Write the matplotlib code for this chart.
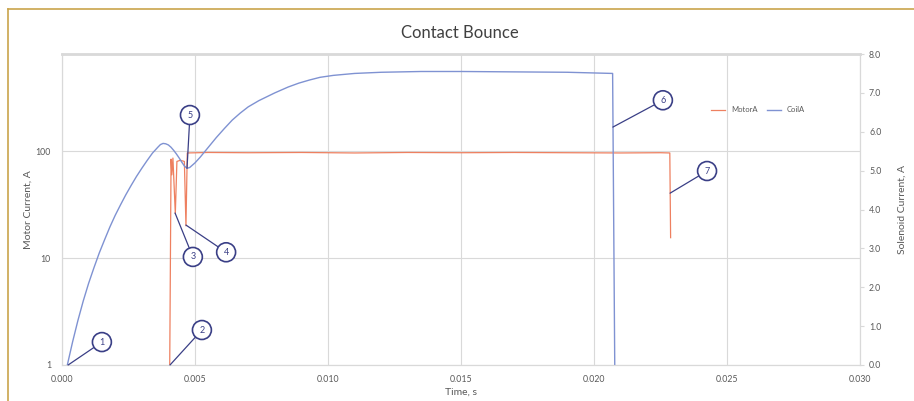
import matplotlib
matplotlib.use("Agg")
import matplotlib.pyplot as plt
from matplotlib.lines import Line2D

# --- data ------------------------------------------------------------------
# solenoid (coil) current, right axis, A
coil_t = [0.0002, 0.0004, 0.0006, 0.0008, 0.0010, 0.0012, 0.0014, 0.0016,
          0.0018, 0.0020, 0.0022, 0.0024, 0.0026, 0.0028, 0.0030, 0.0032,
          0.0034, 0.0036, 0.0037, 0.0038, 0.0039, 0.0040, 0.0041, 0.0042,
          0.0043, 0.0044, 0.0045, 0.0046, 0.0047, 0.0048, 0.0049, 0.0050,
          0.0052, 0.0055, 0.0058, 0.0061, 0.0064, 0.0067, 0.0070, 0.0074,
          0.0077, 0.0080, 0.0085, 0.0089, 0.0093, 0.0097, 0.0102, 0.0110,
          0.0120, 0.0135, 0.0150, 0.0170, 0.0190, 0.0207, 0.02078]
coil_a = [0.0, 0.6, 1.15, 1.65, 2.1, 2.5, 2.88, 3.22,
          3.55, 3.85, 4.12, 4.38, 4.62, 4.85, 5.06, 5.26,
          5.45, 5.6, 5.67, 5.7, 5.69, 5.66, 5.6, 5.52,
          5.43, 5.33, 5.22, 5.12, 5.06, 5.08, 5.14, 5.2,
          5.35, 5.6, 5.85, 6.08, 6.3, 6.48, 6.64, 6.8,
          6.9, 7.0, 7.15, 7.25, 7.33, 7.4, 7.45, 7.5,
          7.53, 7.55, 7.55, 7.54, 7.53, 7.5, 0.0]

# motor current, left log axis, A
motor_t = [0.00405, 0.00410, 0.00413, 0.00417, 0.00426, 0.00432, 0.00445,
           0.00460, 0.00466, 0.00471, 0.0055, 0.0070, 0.0090, 0.0110, 0.0130,
           0.0150, 0.0170, 0.0190, 0.0210, 0.0225, 0.02285, 0.02288]
motor_a = [1.0, 84, 60, 86, 26, 80, 82,
           80, 20, 96, 97, 96.5, 97, 96, 97,
           96.5, 97, 96.5, 96, 96.5, 96, 15.5]

# numbered callouts: label, point (t, solenoid-axis A), circle (t, A)
callout_num = ["1", "2", "3", "4", "5", "6", "7"]
callout_pt = [(0.00023, 0.0), (0.00406, 0.0), (0.00425, 3.91), (0.00466, 3.60),
              (0.0047, 5.06), (0.02071, 6.12), (0.02286, 4.42)]
callout_txt = [(0.0015, 0.59), (0.00526, 0.90), (0.00492, 2.78), (0.00617, 2.90),
               (0.00481, 6.43), (0.02259, 6.81), (0.02425, 4.99)]

x_ticks = [0.000, 0.005, 0.010, 0.015, 0.020, 0.025, 0.030]
left_ticks = [1, 10, 100]
right_ticks = [0, 1, 2, 3, 4, 5, 6, 7, 8]

BLUE = "#7f92d2"
ORANGE = "#ee8060"
NAVY = "#3a3f86"
GRID = "#d9d9d9"
TXT = "#595959"

plt.rcParams["font.family"] = ["Lato", "DejaVu Sans"]

fig = plt.figure(figsize=(9.14, 4.01), dpi=100)
ax = fig.add_axes([62 / 914, 36 / 401, 798 / 914, 311 / 401])
ax2 = ax.twinx()

ax.plot(motor_t, motor_a, color=ORANGE, lw=0.9, label="MotorA")
ax2.plot(coil_t, coil_a, color=BLUE, lw=1.0, label="CoilA")

ax.set_yscale("log")
ax.set_ylim(1, 808)
ax.set_xlim(0, 0.030)
ax2.set_ylim(0, 8)

ax.set_xticks(x_ticks)
ax.set_xticklabels([f"{v:.3f}" for v in x_ticks])
ax.set_yticks(left_ticks)
ax.set_yticklabels([str(v) for v in left_ticks])
ax.yaxis.set_minor_locator(plt.NullLocator())
ax2.set_yticks(right_ticks)
ax2.set_yticklabels([f"{v:.1f}" for v in right_ticks])

ax.grid(True, which="major", color=GRID, lw=0.8)
for a in (ax, ax2):
    for s in a.spines.values():
        s.set_color(GRID)
        s.set_linewidth(0.8)
    a.tick_params(labelsize=6.3, colors=TXT, length=3, color=GRID)
ax.spines["top"].set_linewidth(2.0)
ax.tick_params(axis="y", length=0, pad=8)
ax.tick_params(axis="x", length=0, pad=7)

ax.set_xlabel("Time, s", fontsize=7.5, color=TXT, labelpad=3)
ax.set_ylabel("Motor Current, A", fontsize=7.5, color=TXT, labelpad=2)
ax2.set_ylabel("Solenoid Current, A", fontsize=7.5, color=TXT, labelpad=12)

fig.text(460 / 914, 1 - 33 / 401, "Contact Bounce", ha="center", va="center",
         fontsize=12, color="#404040")

for n, pt, tx in zip(callout_num, callout_pt, callout_txt):
    ax2.annotate(n, xy=pt, xytext=tx, ha="center", va="center",
                 fontsize=6.5, color=NAVY,
                 bbox=dict(boxstyle="circle,pad=0.55", fc="white", ec=NAVY, lw=1.2),
                 arrowprops=dict(arrowstyle="-", color=NAVY, lw=0.9,
                                 shrinkA=0, shrinkB=0))

handles = [Line2D([], [], color=ORANGE, lw=0.9), Line2D([], [], color=BLUE, lw=1.0)]
fig.legend(handles, ["MotorA", "CoilA"], loc="center", ncol=2, frameon=False,
           bbox_to_anchor=(758 / 914, 1 - 110 / 401), fontsize=5.5,
           handlelength=1.8, columnspacing=1.2, labelcolor=TXT)

# gold frame of the original figure (top and left edge)
fig.add_artist(Line2D([8 / 914, 1], [1 - 9 / 401, 1 - 9 / 401], color="#c9a44c", lw=1.2))
fig.add_artist(Line2D([8 / 914, 8 / 914], [0, 1 - 9 / 401], color="#c9a44c", lw=1.2))

fig.savefig("out.png", dpi=100)
